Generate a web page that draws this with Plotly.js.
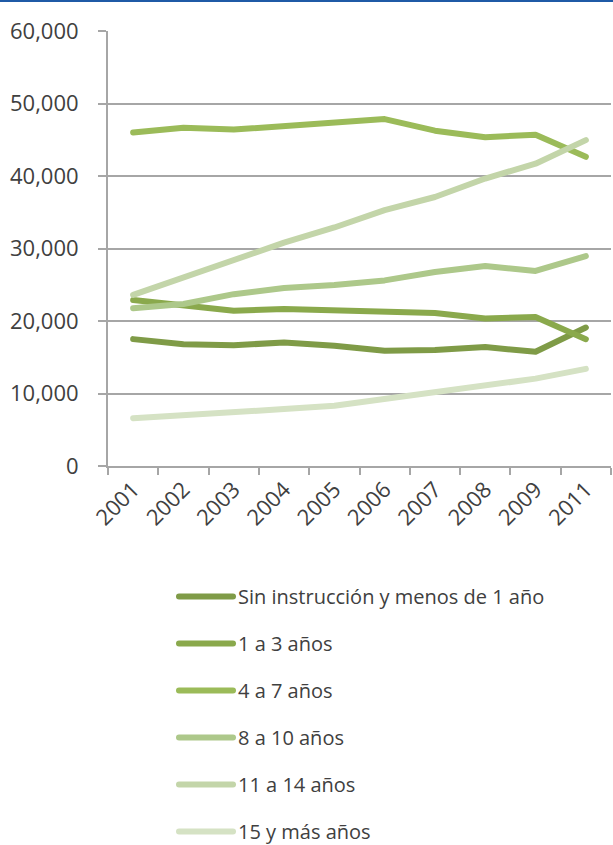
<!DOCTYPE html>
<html>
<head>
<meta charset="utf-8">
<script src="https://cdn.plot.ly/plotly-3.0.1.min.js"></script>
<style>
  html, body { margin: 0; padding: 0; background: #fff; }
  #wrap { position: relative; width: 613px; height: 845px; }
  #topbar { position: absolute; left: 0; top: 0; width: 613px; height: 2px; background: #1f5aa6; z-index: 5; }
  #chart { width: 613px; height: 845px; }
  .scatterlayer path.js-line { stroke-linecap: round; stroke-linejoin: round; }
  .legendlines path { stroke-linecap: round; }
</style>
</head>
<body>
<div id="wrap">
  <div id="topbar"></div>
  <div id="chart"></div>
</div>
<script>
const years = ['2001','2002','2003','2004','2005','2006','2007','2008','2009','2011'];

const seriesNames = [
  'Sin instrucción y menos de 1 año',
  '1 a 3 años',
  '4 a 7 años',
  '8 a 10 años',
  '11 a 14 años',
  '15 y más años'
];

const sinInstruccion = [17500, 16800, 16650, 17050, 16600, 15900, 16000, 16400, 15750, 19100];
const anos1a3        = [22900, 22200, 21400, 21650, 21450, 21100, 21100, 20350, 20550, 17500];
const anos4a7        = [46000, 46650, 46400, 46950, 47450, 47850, 46250, 45350, 45700, 42650];
const anos8a10       = [21750, 22350, 23700, 24550, 24950, 25600, 26750, 27600, 26900, 28950];
const anos11a14      = [23600, 26050, 28400, 30800, 32900, 35300, 37100, 39650, 41700, 44950];
const anos15mas      = [6600, 6950, 7400, 7850, 8300, 9250, 10100, 11000, 12050, 13400];

const seriesValues = [sinInstruccion, anos1a3, anos4a7, anos8a10, anos11a14, anos15mas];
const seriesColors = ['#7f9b47', '#8aa94c', '#9bbb59', '#adc88a', '#c3d5a9', '#d5e2c4'];

const traces = seriesNames.map((name, i) => ({
  type: 'scatter',
  mode: 'lines',
  name: name,
  legendgroup: 'g' + i,
  x: years,
  y: seriesValues[i],
  line: { color: seriesColors[i], width: 6 },
  hoverinfo: 'x+y+name'
}));

const tickFont = { family: 'Open Sans', size: 22, color: '#404040' };
const gridColor = '#a6a6a6';

const layout = {
  width: 613,
  height: 845,
  margin: { l: 108, r: 2, t: 31, b: 379, pad: 0, autoexpand: false },
  paper_bgcolor: '#ffffff',
  plot_bgcolor: '#ffffff',
  font: { family: 'Open Sans', size: 20, color: '#404040' },
  showlegend: true,
  xaxis: {
    type: 'category',
    range: [-0.5, 9.5],
    automargin: false,
    showline: true,
    linecolor: gridColor,
    linewidth: 2,
    showgrid: false,
    zeroline: false,
    ticks: 'outside',
    tickson: 'boundaries',
    ticklen: 7,
    tickwidth: 2,
    tickcolor: gridColor,
    tickangle: -45,
    tickfont: tickFont,
    fixedrange: true
  },
  yaxis: {
    range: [0, 60000],
    automargin: false,
    tickvals: [0, 10000, 20000, 30000, 40000, 50000, 60000],
    ticktext: ['0', '10,000', '20,000', '30,000', '40,000', '50,000', '60,000'],
    showline: true,
    linecolor: gridColor,
    linewidth: 2,
    showgrid: true,
    gridcolor: gridColor,
    gridwidth: 2,
    zeroline: false,
    ticks: 'outside',
    ticklen: 8,
    tickwidth: 2,
    tickcolor: gridColor,
    ticklabelstandoff: 15,
    tickfont: tickFont,
    fixedrange: true
  },
  legend: {
    xref: 'container',
    yref: 'container',
    x: 176 / 613,
    y: 1 - 577 / 845,
    xanchor: 'left',
    yanchor: 'top',
    orientation: 'v',
    traceorder: 'grouped',
    tracegroupgap: 18,
    itemwidth: 52,
    bgcolor: 'rgba(0,0,0,0)',
    borderwidth: 0,
    font: { family: 'Open Sans', size: 20, color: '#404040' }
  }
};

Plotly.newPlot('chart', traces, layout, { displayModeBar: false, staticPlot: true }).then(gd => {
  gd.querySelectorAll('.legendlines path').forEach(p => p.setAttribute('d', 'M3,0h54'));
});
</script>
</body>
</html>
